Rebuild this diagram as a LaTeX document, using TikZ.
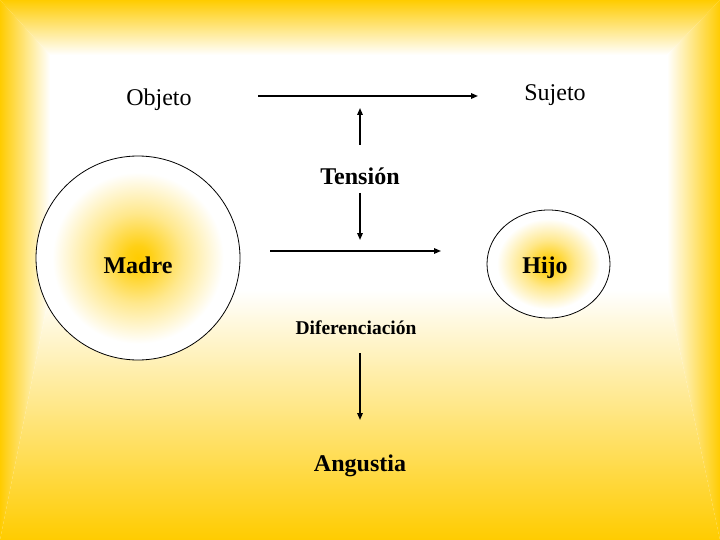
\documentclass[tikz,border=0pt]{standalone}
\usepackage{fontspec}
\setmainfont{Liberation Serif}
\usetikzlibrary{arrows.meta,shapes.geometric}
\definecolor{yel}{RGB}{255,204,0}
\pgfdeclareradialshading{blob}{\pgfpoint{0bp}{0bp}}{color(0bp)=(yel); color(3bp)=(yel!92!white); color(11bp)=(yel!45!white); color(21bp)=(white); color(50bp)=(white)}
\begin{document}
\begin{tikzpicture}[x=1pt,y=-1pt,
  lab/.style={font=\fontsize{24}{28}\selectfont, inner sep=0pt},
  blab/.style={font=\fontsize{24}{28}\selectfont\bfseries, inner sep=0pt},
  slab/.style={font=\fontsize{19.5}{23}\selectfont\bfseries, inner sep=0pt},
  arr/.style={line width=1.5pt, -{Triangle[length=7pt,width=5.5pt]}},
  blobnode/.style={draw=black, line width=0.8pt, shading=blob, inner sep=0pt}]
\useasboundingbox (0,0) rectangle (720,540);
% background
\fill[white] (0,0) rectangle (720,540);
\shade[top color=yel, bottom color=white] (0,0) -- (720,0) -- (667,55) -- (50,55) -- cycle;
\shade[left color=yel, right color=white] (0,0) -- (50,55) -- (50,290) -- (0,540) -- cycle;
\shade[left color=white, right color=yel] (720,0) -- (667,55) -- (667,290) -- (720,540) -- cycle;
\shade[top color=white, bottom color=yel] (0,540) -- (50,290) -- (667,290) -- (720,540) -- cycle;
% shapes
\node[blobnode, circle, minimum size=204pt] (madreC) at (138,258) {};
\node[blobnode, ellipse, minimum width=123pt, minimum height=108pt] (hijoC) at (548.5,264) {};
% labels
\node[lab] (obj) at (159,100) {Objeto};
\node[lab] (suj) at (555,95) {Sujeto};
\node[blab] (ten) at (360,176) {Tensión};
\node[blab] (madre) at (138,265) {Madre};
\node[blab] (hijo) at (545,268) {Hijo};
\node[slab] (dif) at (356,328) {Diferenciación};
\node[blab] (ang) at (360,466) {Angustia};
% connector ends
\coordinate (a1s) at (258,96);
\coordinate (a1e) at (478,96);
\coordinate (a2s) at (360,145);
\coordinate (a2e) at (360,108);
\coordinate (a3s) at (360,193);
\coordinate (a3e) at (360,240);
\coordinate (a4s) at (270,251);
\coordinate (a4e) at (441,251);
\coordinate (a5s) at (360,353);
\coordinate (a5e) at (360,420);
\draw[arr] (a1s) -- (a1e);
\draw[arr] (a2s) -- (a2e);
\draw[arr] (a3s) -- (a3e);
\draw[arr] (a4s) -- (a4e);
\draw[arr] (a5s) -- (a5e);
\end{tikzpicture}
\end{document}
